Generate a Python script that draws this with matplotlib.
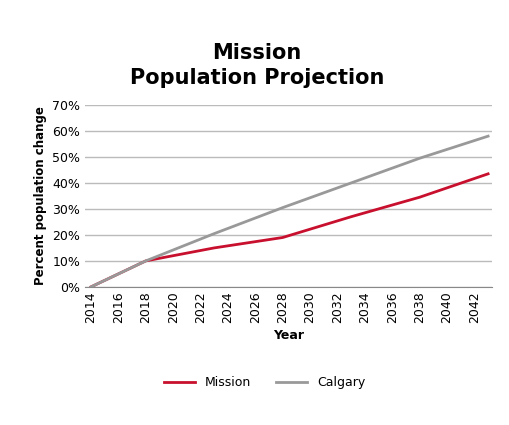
import matplotlib
matplotlib.use("Agg")
import matplotlib.pyplot as plt

years = [2014, 2018, 2023, 2028, 2033, 2038, 2043]
mission = [0, 10, 15, 19, 27, 34.5, 43.5]
calgary = [0, 10, 20.5, 30.5, 40, 49.5, 58]
xticks = list(range(2014, 2043, 2))
yticks = [0, 10, 20, 30, 40, 50, 60, 70]

fig = plt.figure(figsize=(5.09, 4.25), dpi=100)
ax = fig.add_axes([0.167, 0.325, 0.8, 0.428])
ax.plot(years, mission, color="#c8102e", lw=2, label="Mission")
ax.plot(years, calgary, color="#999999", lw=2, label="Calgary")
ax.set_xlim(2013.56, 2043.3)
ax.set_ylim(0, 70)
ax.set_yticks(yticks)
ax.set_yticklabels([f"{v}%" for v in yticks], fontsize=9)
ax.set_xticks(xticks)
ax.set_xticklabels([str(x) for x in xticks], rotation=90, fontsize=9)
ax.grid(axis="y", color="#bbbbbb", lw=1)
ax.set_axisbelow(True)
for s in ["top", "right", "left"]:
    ax.spines[s].set_visible(False)
ax.spines["bottom"].set_color("#888888")
ax.tick_params(length=0)
ax.set_xlabel("Year", fontweight="bold", fontsize=9)
ax.set_ylabel("Percent population change", fontweight="bold", fontsize=8.5)
fig.text(0.505, 0.845, "Mission\nPopulation Projection", ha="center", va="center",
         fontsize=15, fontweight="bold", linespacing=1.3)
fig.legend(loc="center", bbox_to_anchor=(0.52, 0.1), ncol=2, frameon=False, fontsize=9,
           handlelength=2.5)
fig.savefig("out.png", dpi=100)
